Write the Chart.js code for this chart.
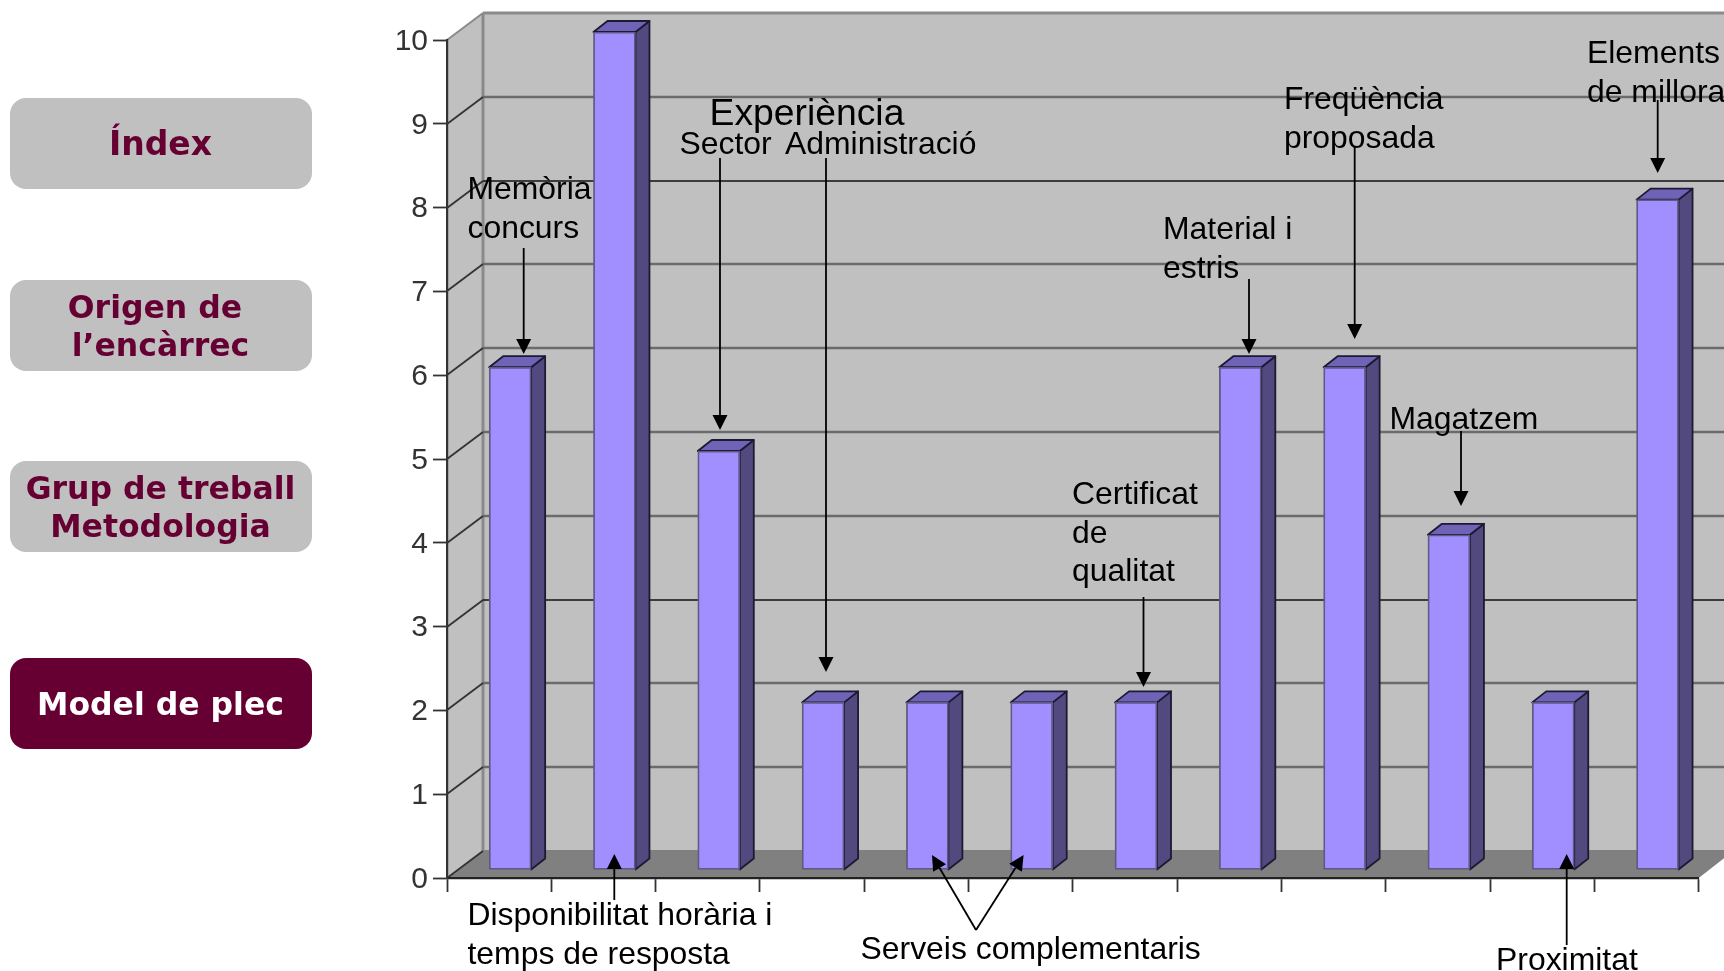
<!DOCTYPE html>
<html>
<head>
<meta charset="utf-8">
<style>
html,body{margin:0;padding:0;background:#fff;width:1724px;height:971px;overflow:hidden}
canvas{position:absolute;left:0;top:0;filter:blur(0.45px)}
.nav{position:absolute;left:9.5px;width:302px;height:91px;border-radius:16px;background:#c0c0c0;color:#660033;
font:bold 31.5px/38px "DejaVu Sans",sans-serif;display:flex;align-items:center;justify-content:center;text-align:center;white-space:pre-line;filter:blur(0.3px)}
.nav.on{background:#660033;color:#fff}
</style>
</head>
<body>
<div class="nav" style="top:98px;font-size:33px">Índex</div>
<div class="nav" style="top:280px">Origen de&nbsp;
l’encàrrec</div>
<div class="nav" style="top:461px">Grup de treball
Metodologia</div>
<div class="nav on" style="top:658px">Model de plec</div>
<canvas id="c" width="1724" height="971"></canvas>
<script src="https://cdn.jsdelivr.net/npm/chart.js@4/dist/chart.umd.js"></script>
<script>
const categories = ["Memòria concurs","Disponibilitat horària i temps de resposta","Sector","Administració","Serveis complementaris 1","Serveis complementaris 2","Certificat de qualitat","Material i estris","Freqüència proposada","Magatzem","Proximitat","Elements de millora"];
const values = [6,10,5,2,2,2,2,6,6,4,2,8];
const yTicks = [0,1,2,3,4,5,6,7,8,9,10];
const notes = [
  {lines:["Memòria","concurs"],x:467.5,y:199},
  {lines:["Experiència"],x:709.5,y:125,size:37.3},
  {lines:["Sector"],x:679.5,y:154},
  {lines:["Administració"],x:785,y:154},
  {lines:["Certificat","de","qualitat"],x:1072,y:504},
  {lines:["Material i","estris"],x:1163,y:239},
  {lines:["Freqüència","proposada"],x:1284,y:109},
  {lines:["Magatzem"],x:1389.5,y:429},
  {lines:["Elements","de millora"],x:1587,y:63},
  {lines:["Disponibilitat horària i","temps de resposta"],x:467.5,y:925},
  {lines:["Serveis complementaris"],x:860.5,y:959},
  {lines:["Proximitat"],x:1496,y:970}
];
const arrows = [
  [523.7,248,523.7,354],[720,158,720,430],[826,158,826,672],[1143.5,597,1143.5,687],
  [1249,279,1249,354],[1354.7,146,1354.7,339],[1461,431,1461,506],[1657.7,100,1657.7,173],
  [614.3,900,614.3,854],[1566.7,945,1566.7,854],[976,930,932,855],[976,930,1023.6,855]
];
const barShift = {x:11,y:-8}, depth = {x:14,y:-11}, wall = {x:36,y:-27};
const blackLines = [3,8];

const threeD = {
  id:'threeD',
  beforeDraw(chart){
    const {ctx,chartArea:a,scales:{y}} = chart;
    const bx=a.left+wall.x, rx=a.right+wall.x;
    ctx.save();
    ctx.fillStyle='#c0c0c0';
    ctx.beginPath();
    ctx.moveTo(a.left,a.top);ctx.lineTo(bx,a.top+wall.y);ctx.lineTo(rx,a.top+wall.y);
    ctx.lineTo(rx,a.bottom+wall.y);ctx.lineTo(a.left,a.bottom);ctx.closePath();ctx.fill();
    ctx.fillStyle='#808080';
    ctx.beginPath();
    ctx.moveTo(a.left,a.bottom);ctx.lineTo(bx,a.bottom+wall.y-1);ctx.lineTo(rx,a.bottom+wall.y-1);
    ctx.lineTo(a.right,a.bottom);ctx.closePath();ctx.fill();
    ctx.strokeStyle='#8a8a8a';ctx.lineWidth=3;
    ctx.beginPath();ctx.moveTo(bx,a.top+wall.y);ctx.lineTo(rx,a.top+wall.y);ctx.stroke();
    ctx.beginPath();ctx.moveTo(bx,a.top+wall.y);ctx.lineTo(bx,a.bottom+wall.y);ctx.stroke();
    ctx.lineWidth=2;
    ctx.beginPath();ctx.moveTo(a.left,a.top);ctx.lineTo(bx,a.top+wall.y);ctx.strokeStyle='#8a8a8a';ctx.stroke();
    yTicks.forEach(v=>{
      if(v===10) return;
      const py=Math.round(y.getPixelForValue(v));
      if(v>0){
        const dark=blackLines.includes(v);
        ctx.strokeStyle=dark?'#111':'#6b6b6b';ctx.lineWidth=dark?1.6:2.5;
        ctx.beginPath();ctx.moveTo(bx,py+wall.y);ctx.lineTo(rx,py+wall.y);ctx.stroke();
      }
      ctx.strokeStyle='#333';ctx.lineWidth=1.8;
      ctx.beginPath();ctx.moveTo(a.left,py);ctx.lineTo(bx,py+wall.y);ctx.stroke();
    });
    ctx.restore();
  },
  beforeDatasetsDraw(chart){
    const {ctx}=chart;
    ctx.save();
    ctx.translate(barShift.x,barShift.y);
    chart.getDatasetMeta(0).data.forEach(b=>{
      const l=b.x-b.width/2,r=b.x+b.width/2;
      ctx.lineWidth=1.8;ctx.strokeStyle='#1c1a33';ctx.lineJoin='round';
      ctx.fillStyle='#524a7f';
      ctx.beginPath();ctx.moveTo(r,b.y);ctx.lineTo(r+depth.x,b.y+depth.y);ctx.lineTo(r+depth.x,b.base+depth.y);ctx.lineTo(r,b.base);ctx.closePath();ctx.fill();ctx.stroke();
      ctx.fillStyle='#6f63b8';
      ctx.beginPath();ctx.moveTo(l,b.y);ctx.lineTo(l+depth.x,b.y+depth.y);ctx.lineTo(r+depth.x,b.y+depth.y);ctx.lineTo(r,b.y);ctx.closePath();ctx.fill();ctx.stroke();
    });
  },
  afterDatasetsDraw(chart){ chart.ctx.restore(); },
  afterDraw(chart){
    const {ctx}=chart;
    ctx.save();
    ctx.fillStyle='#000';ctx.strokeStyle='#000';ctx.lineWidth=1.8;
    arrows.forEach(([x0,y0,x1,y1])=>{
      const t=Math.atan2(y1-y0,x1-x0),h=15,w=7.5;
      const bxx=x1-h*Math.cos(t),byy=y1-h*Math.sin(t);
      ctx.beginPath();ctx.moveTo(x0,y0);ctx.lineTo(bxx,byy);ctx.stroke();
      ctx.beginPath();ctx.moveTo(x1,y1);
      ctx.lineTo(bxx-w*Math.sin(t),byy+w*Math.cos(t));
      ctx.lineTo(bxx+w*Math.sin(t),byy-w*Math.cos(t));ctx.closePath();ctx.fill();
    });
    ctx.textAlign='left';ctx.textBaseline='alphabetic';
    notes.forEach(n=>{
      ctx.font=(n.size||31.9)+'px "Liberation Sans", Arial, sans-serif';
      n.lines.forEach((t,i)=>ctx.fillText(t,n.x,n.y+i*38.5));
    });
    ctx.restore();
  }
};

new Chart(document.getElementById('c'),{
  type:'bar',
  data:{labels:categories,datasets:[{data:values,backgroundColor:'#a18fff',borderColor:'#5f5a85',borderWidth:1.8,barThickness:42,borderSkipped:false}]},
  plugins:[threeD],
  options:{
    responsive:false,animation:false,events:[],
    layout:{padding:{left:387,right:25.3,top:40,bottom:73}},
    plugins:{legend:{display:false},tooltip:{enabled:false},title:{display:false}},
    scales:{
      x:{ticks:{display:false},
         grid:{offset:true,drawOnChartArea:false,drawTicks:true,tickLength:14,tickColor:'#333',tickWidth:1.8},
         border:{color:'#222',width:2.2},
         afterFit(s){s.height=20;}},
      y:{min:0,max:10,
         ticks:{stepSize:1,color:'#333',padding:5,labelOffset:1.5,font:{family:'"Liberation Sans", Arial, sans-serif',size:30}},
         grid:{drawOnChartArea:false,drawTicks:true,tickLength:14,tickColor:'#333',tickWidth:1.8},
         border:{color:'#333',width:2.2},
         afterFit(s){s.width=60;}}
    }
  }
});
</script>
</body>
</html>
